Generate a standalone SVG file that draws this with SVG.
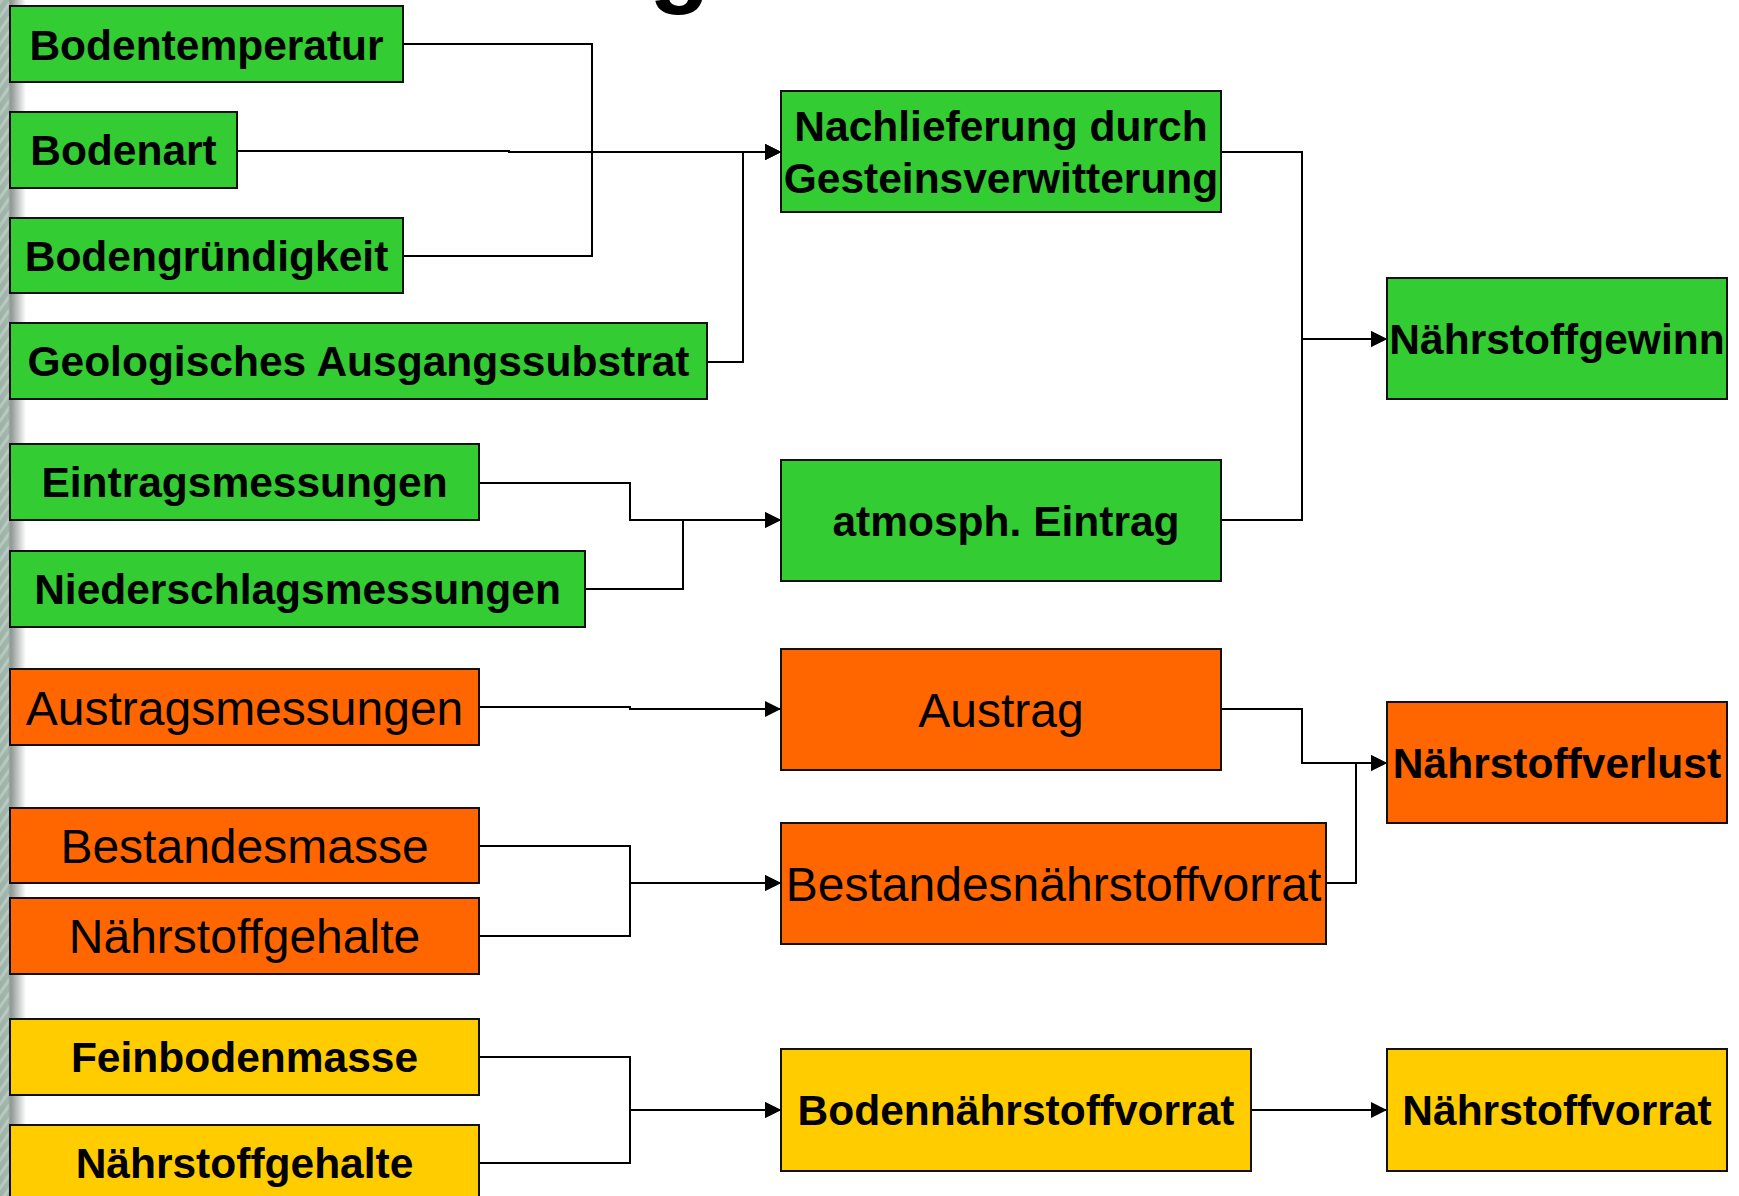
<svg xmlns="http://www.w3.org/2000/svg" width="1739" height="1196" viewBox="0 0 1739 1196">
<defs>
<linearGradient id="edge" x1="0" y1="0" x2="1" y2="0">
<stop offset="0" stop-color="#9db3a7"/>
<stop offset="0.3" stop-color="#a3b8ad"/>
<stop offset="0.42" stop-color="#8f9893"/>
<stop offset="1" stop-color="#ffffff"/>
</linearGradient>
<pattern id="hatch" width="8" height="8" patternUnits="userSpaceOnUse" patternTransform="rotate(-55)">
<rect width="8" height="3" fill="#ffffff" opacity="0.25"/>
</pattern>
<marker id="arr" markerUnits="userSpaceOnUse" markerWidth="16" markerHeight="16" refX="16" refY="8" orient="auto">
<path d="M0,0 L16,8 L0,16 z" fill="#000"/>
</marker>
</defs>
<style>
.box{stroke:#111;stroke-width:2}
.g{fill:#33cc33}
.o{fill:#ff6600}
.y{fill:#ffcc00}
.tb{font-family:"Liberation Sans",Arial,sans-serif;font-weight:bold;font-size:42.5px;fill:#000;text-anchor:middle}
.tr{font-family:"Liberation Sans",Arial,sans-serif;font-size:48px;fill:#000;text-anchor:middle}
.c{fill:none;stroke:#000;stroke-width:2}
.a{marker-end:url(#arr)}
</style>
<rect width="1739" height="1196" fill="#fff"/>
<rect x="0" y="0" width="26" height="1196" fill="url(#edge)"/>
<rect x="0" y="0" width="9" height="1196" fill="url(#hatch)"/>
<text x="649" y="-6" font-family="Liberation Sans,Arial,sans-serif" font-weight="bold" font-size="100" fill="#000">g</text>

<g id="connectors">
<path class="c a" d="M403,44 H592 V152 H781"/>
<path class="c a" d="M403,256 H592 V152 H781"/>
<path class="c a" d="M237,151 H509 V152 H781"/>
<path class="c a" d="M707,362 H743 V152 H781"/>
<path class="c a" d="M479,483 H630 V520 H781"/>
<path class="c a" d="M585,589 H683 V520 H781"/>
<path class="c a" d="M479,707 H630 V709 H781"/>
<path class="c a" d="M479,846 H630 V883 H781"/>
<path class="c a" d="M479,936 H630 V883 H781"/>
<path class="c a" d="M479,1057 H630 V1110 H781"/>
<path class="c a" d="M479,1163 H630 V1110 H781"/>
<path class="c a" d="M1221,152 H1302 V339 H1387"/>
<path class="c a" d="M1221,520 H1302 V339 H1387"/>
<path class="c a" d="M1221,709 H1302 V763 H1387"/>
<path class="c a" d="M1326,883 H1356 V763 H1387"/>
<path class="c a" d="M1251,1110 H1387"/>
</g>

<g id="bodentemperatur"><rect class="box g" x="10" y="6" width="393" height="76"/><text class="tb" x="206.5" y="59.5">Bodentemperatur</text></g>
<g id="bodenart"><rect class="box g" x="10" y="112" width="227" height="76"/><text class="tb" x="123.5" y="165">Bodenart</text></g>
<g id="bodengruendigkeit"><rect class="box g" x="10" y="218" width="393" height="75"/><text class="tb" x="206.5" y="270.5">Bodengründigkeit</text></g>
<g id="geologisches"><rect class="box g" x="10" y="323" width="697" height="76"/><text class="tb" x="358.5" y="376">Geologisches Ausgangssubstrat</text></g>
<g id="eintragsmessungen"><rect class="box g" x="10" y="444" width="469" height="76"/><text class="tb" x="244.5" y="497">Eintragsmessungen</text></g>
<g id="niederschlagsmessungen"><rect class="box g" x="10" y="551" width="575" height="76"/><text class="tb" x="297.5" y="604">Niederschlagsmessungen</text></g>
<g id="austragsmessungen"><rect class="box o" x="10" y="669" width="469" height="76"/><text class="tr" x="244.5" y="725">Austragsmessungen</text></g>
<g id="bestandesmasse"><rect class="box o" x="10" y="808" width="469" height="75"/><text class="tr" x="244.5" y="862.5">Bestandesmasse</text></g>
<g id="naehrstoffgehalte1"><rect class="box o" x="10" y="898" width="469" height="76"/><text class="tr" x="244.5" y="953">Nährstoffgehalte</text></g>
<g id="feinbodenmasse"><rect class="box y" x="10" y="1019" width="469" height="76"/><text class="tb" x="244.5" y="1072">Feinbodenmasse</text></g>
<g id="naehrstoffgehalte2"><rect class="box y" x="10" y="1125" width="469" height="80"/><text class="tb" x="244.5" y="1178">Nährstoffgehalte</text></g>

<g id="nachlieferung"><rect class="box g" x="781" y="91" width="440" height="121"/><text class="tb" x="1001" y="141">Nachlieferung durch</text><text class="tb" x="1001" y="193">Gesteinsverwitterung</text></g>
<g id="atmosph"><rect class="box g" x="781" y="460" width="440" height="121"/><text class="tb" x="1006" y="536">atmosph. Eintrag</text></g>
<g id="austrag"><rect class="box o" x="781" y="649" width="440" height="121"/><text class="tr" x="1001" y="727">Austrag</text></g>
<g id="bestandesnaehrstoffvorrat"><rect class="box o" x="781" y="823" width="545" height="121"/><text class="tr" x="1053.5" y="901">Bestandesnährstoffvorrat</text></g>
<g id="bodennaehrstoffvorrat"><rect class="box y" x="781" y="1049" width="470" height="122"/><text class="tb" x="1016" y="1125">Bodennährstoffvorrat</text></g>

<g id="naehrstoffgewinn"><rect class="box g" x="1387" y="278" width="340" height="121"/><text class="tb" x="1557" y="354">Nährstoffgewinn</text></g>
<g id="naehrstoffverlust"><rect class="box o" x="1387" y="702" width="340" height="121"/><text class="tb" x="1557" y="778">Nährstoffverlust</text></g>
<g id="naehrstoffvorrat"><rect class="box y" x="1387" y="1049" width="340" height="122"/><text class="tb" x="1557" y="1125">Nährstoffvorrat</text></g>
</svg>
